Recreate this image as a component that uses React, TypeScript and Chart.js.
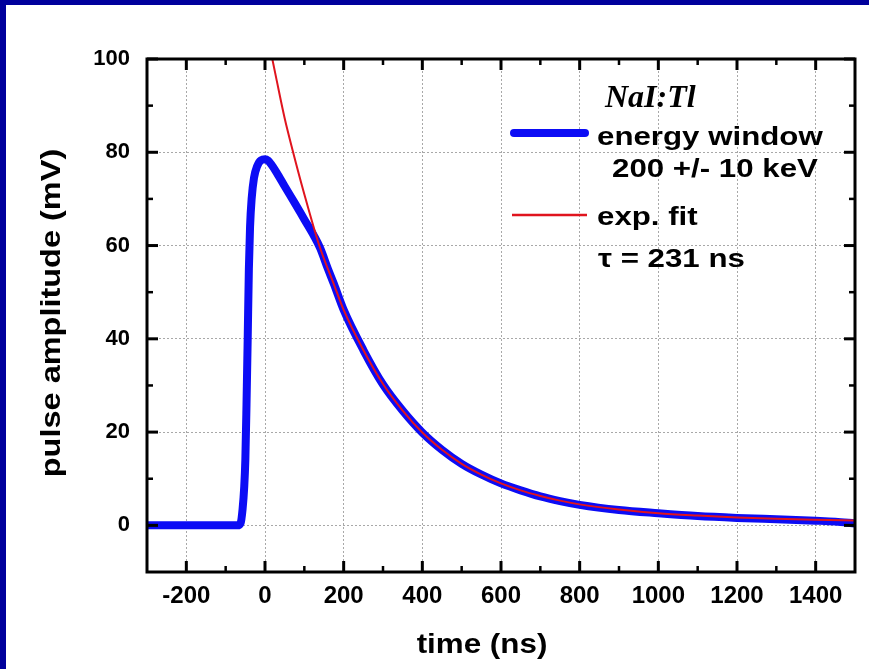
import React, { useEffect, useRef } from "react";
import { Chart, registerables } from "chart.js";

Chart.register(...registerables);

// ---- data ----
const BLUE_T = [-300, -70, -62, -57, -53, -50, -47, -44, -41, -38, -34, -28, -20, -10, 0, 8, 15, 30, 50, 75, 100, 125, 140, 160, 175, 200, 250, 300, 350, 400, 450, 500, 550, 600, 650, 700, 750, 800, 900, 1000, 1100, 1200, 1300, 1400, 1450, 1500];
const BLUE_V = [0, 0, 0.5, 3.5, 8, 14, 26, 40, 55, 64, 70, 74.5, 77, 78.3, 78.5, 78.2, 77.5, 75.6, 72.7, 69.2, 65.6, 62, 59.5, 55, 51.8, 46.2, 37.6, 30.2, 24.6, 19.9, 16.2, 13.2, 10.9, 9.0, 7.5, 6.2, 5.2, 4.4, 3.3, 2.6, 2.0, 1.6, 1.3, 1.0, 0.8, 0.4];

const RED_T = [15, 30, 50, 70, 100, 138, 175, 200, 250, 300, 350, 400, 450, 500, 550, 600, 650, 700, 750, 800, 900, 1000, 1100, 1200, 1300, 1400, 1500];
const RED_V = [101.5, 95.3, 87.3, 80.5, 71, 60, 51.7, 46.2, 37.6, 30.3, 24.6, 19.9, 16.2, 13.2, 10.9, 9.0, 7.5, 6.3, 5.3, 4.5, 3.4, 2.6, 2.1, 1.7, 1.4, 1.2, 1.05];

const X_MAJOR_TICKS = [-200, 0, 200, 400, 600, 800, 1000, 1200, 1400];
const X_MINOR_TICKS = [-100, 100, 300, 500, 700, 900, 1100, 1300];
const Y_MAJOR_TICKS = [0, 20, 40, 60, 80, 100];
const Y_MINOR_TICKS = [10, 30, 50, 70, 90];

const X_TITLE = "time (ns)";
const Y_TITLE = "pulse amplitude (mV)";
const LEGEND_HEAD = "NaI:Tl";
const LEGEND_BLUE = ["energy window", "200 +/- 10 keV"];
const LEGEND_RED = ["exp. fit", "\u03C4 = 231 ns"];

const SANS = "'Liberation Sans', Arial, Helvetica, sans-serif";
const SERIF = "'Liberation Serif', 'Times New Roman', serif";
const BLUE = "#0c0cf5";
const RED = "#e0141e";

function stretchedText(ctx: CanvasRenderingContext2D, text: string, x: number, y: number, font: string, sx: number) {
  ctx.save();
  ctx.translate(x, y);
  ctx.scale(sx, 1);
  ctx.font = font;
  ctx.fillText(text, 0, 0);
  ctx.restore();
}

const framePlugin = {
  id: "frameTicks",
  afterDraw(chart: any) {
    const { ctx, chartArea, scales } = chart;
    const { left, right, top, bottom } = chartArea;
    const xs = scales.x;
    const ys = scales.y;
    ctx.save();
    ctx.strokeStyle = "#000";
    ctx.lineCap = "butt";
    const tick = (x1: number, y1: number, x2: number, y2: number, w: number) => {
      ctx.lineWidth = w;
      ctx.beginPath();
      ctx.moveTo(x1, y1);
      ctx.lineTo(x2, y2);
      ctx.stroke();
    };
    X_MAJOR_TICKS.forEach((v) => {
      const p = xs.getPixelForValue(v);
      tick(p, bottom, p, bottom - 11, 3);
      tick(p, top, p, top + 11, 3);
    });
    X_MINOR_TICKS.forEach((v) => {
      const p = xs.getPixelForValue(v);
      tick(p, bottom, p, bottom - 6, 2.5);
      tick(p, top, p, top + 6, 2.5);
    });
    Y_MAJOR_TICKS.forEach((v) => {
      const p = ys.getPixelForValue(v);
      tick(left, p, left + 11, p, 3);
      tick(right, p, right - 11, p, 3);
    });
    Y_MINOR_TICKS.forEach((v) => {
      const p = ys.getPixelForValue(v);
      tick(left, p, left + 6, p, 2.5);
      tick(right, p, right - 6, p, 2.5);
    });
    ctx.lineWidth = 3;
    ctx.lineJoin = "miter";
    ctx.strokeRect(left, top, right - left, bottom - top);

    // axis titles
    ctx.fillStyle = "#000";
    ctx.textAlign = "center";
    ctx.textBaseline = "middle";
    stretchedText(ctx, X_TITLE, 476, 640, `bold 28px ${SANS}`, 1.12);
    ctx.save();
    ctx.translate(46, 308);
    ctx.rotate(-Math.PI / 2);
    stretchedText(ctx, Y_TITLE, 0, 0, `bold 28px ${SANS}`, 1.16);
    ctx.restore();

    // legend
    ctx.textAlign = "left";
    ctx.textBaseline = "alphabetic";
    ctx.font = `italic bold 32px ${SERIF}`;
    ctx.fillText(LEGEND_HEAD, 599, 102);

    ctx.lineCap = "round";
    ctx.strokeStyle = BLUE;
    ctx.lineWidth = 8;
    ctx.beginPath();
    ctx.moveTo(508, 128);
    ctx.lineTo(579, 128);
    ctx.stroke();
    ctx.strokeStyle = RED;
    ctx.lineWidth = 2.5;
    ctx.lineCap = "butt";
    ctx.beginPath();
    ctx.moveTo(506, 210);
    ctx.lineTo(581, 210);
    ctx.stroke();

    const lf = `bold 25px ${SANS}`;
    stretchedText(ctx, LEGEND_BLUE[0], 591, 140, lf, 1.25);
    stretchedText(ctx, LEGEND_BLUE[1], 606, 172, lf, 1.25);
    stretchedText(ctx, LEGEND_RED[0], 591, 220, lf, 1.25);
    stretchedText(ctx, LEGEND_RED[1], 592, 262, lf, 1.25);
    ctx.restore();
  },
};

export default function App() {
  const ref = useRef<HTMLCanvasElement | null>(null);

  useEffect(() => {
    document.body.style.margin = "0";
    const canvas = ref.current;
    if (!canvas) return;
    const chart = new Chart(canvas, {
      type: "line",
      data: {
        datasets: [
          {
            label: "energy window",
            data: BLUE_T.map((t, i) => ({ x: t, y: BLUE_V[i] })),
            borderColor: BLUE,
            borderWidth: 8,
            pointRadius: 0,
            cubicInterpolationMode: "monotone",
            borderCapStyle: "round",
            borderJoinStyle: "round",
            fill: false,
            order: 2,
          },
          {
            label: "exp. fit",
            data: RED_T.map((t, i) => ({ x: t, y: RED_V[i] })),
            borderColor: RED,
            borderWidth: 2,
            pointRadius: 0,
            cubicInterpolationMode: "monotone",
            fill: false,
            order: 1,
          },
        ],
      },
      options: {
        animation: false,
        responsive: false,
        events: [],
        layout: { padding: { left: 0, top: 54, right: 14, bottom: 0 } },
        plugins: {
          legend: { display: false },
          tooltip: { enabled: false },
          title: { display: false },
        },
        scales: {
          x: {
            type: "linear",
            min: -300,
            max: 1500,
            afterBuildTicks: (s: any) => {
              s.ticks = X_MAJOR_TICKS.map((v) => ({ value: v }));
            },
            afterFit: (s: any) => {
              s.height = 97;
            },
            grid: { color: "#a8a8a8", lineWidth: 1, drawTicks: false },
            border: { display: false, dash: [2, 2] },
            ticks: {
              color: "#000",
              padding: 10,
              maxRotation: 0,
              autoSkip: false,
              font: { family: SANS, size: 24, weight: "bold" },
              callback: (v: any) => String(v),
            },
          },
          y: {
            type: "linear",
            min: -10,
            max: 100,
            afterBuildTicks: (s: any) => {
              s.ticks = Y_MAJOR_TICKS.map((v) => ({ value: v }));
            },
            afterFit: (s: any) => {
              s.width = 141;
            },
            grid: { color: "#a8a8a8", lineWidth: 1, drawTicks: false },
            border: { display: false, dash: [2, 2] },
            ticks: {
              color: "#000",
              padding: 17,
              autoSkip: false,
              font: { family: SANS, size: 22, weight: "bold" },
              callback: (v: any) => String(v),
            },
          },
        },
      },
      plugins: [framePlugin],
    } as any);
    return () => chart.destroy();
  }, []);

  return (
    <div style={{ position: "relative", width: 869, height: 669, background: "#00009c", overflow: "hidden" }}>
      <div style={{ position: "absolute", left: 6, top: 5, width: 863, height: 664, background: "#fff" }}>
        <canvas ref={ref} width={863} height={664} style={{ display: "block", width: 863, height: 664 }} />
      </div>
    </div>
  );
}
